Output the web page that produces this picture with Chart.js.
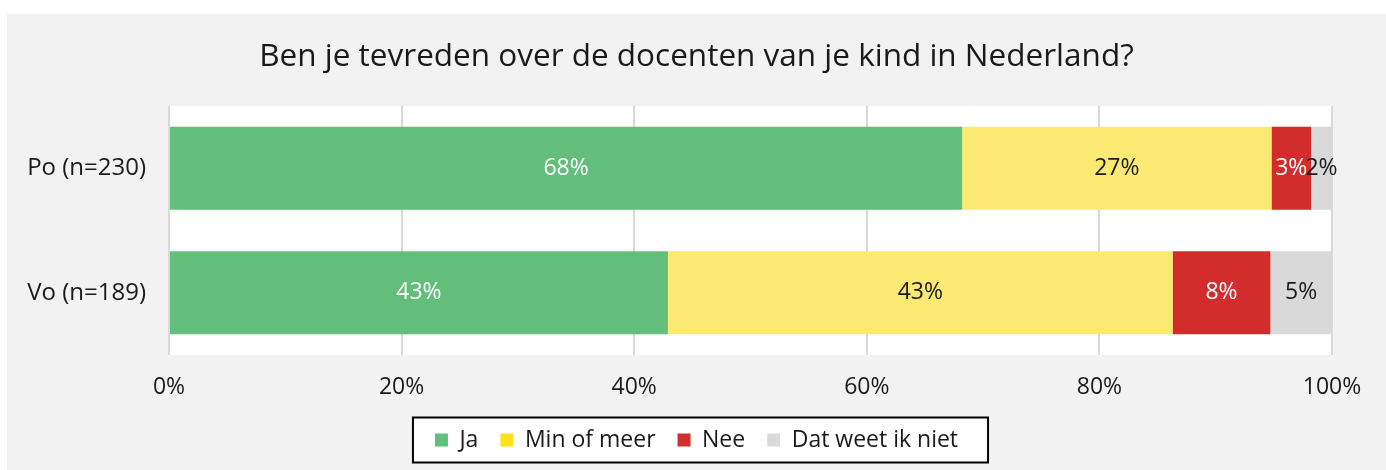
<!DOCTYPE html>
<html>
<head>
<meta charset="utf-8">
<script src="https://cdn.jsdelivr.net/npm/chart.js@4"></script>
<style>
  html, body { margin: 0; padding: 0; background: #fff; overflow: hidden; }
  #wrap { position: absolute; left: 7px; top: 14px; width: 1379px; height: 456px; background: #f2f2f2; }
</style>
</head>
<body>
<div id="wrap"><canvas id="myChart"></canvas></div>
<script>
// gegevens uit de grafiek (percentages per groep)
const categorieen = ['Po (n=230)', 'Vo (n=189)'];
const reeksen = ['Ja', 'Min of meer', 'Nee', 'Dat weet ik niet'];
const ja = [68.2, 42.9];
const minOfMeer = [26.6, 43.4];
const nee = [3.4, 8.4];
const weetNiet = [1.8, 5.3];
const xTicks = [0, 20, 40, 60, 80, 100];
const titel = 'Ben je tevreden over de docenten van je kind in Nederland?';

// kleuren
const balkKleuren = ['#63be7b', '#fce974', '#d22c2c', '#d9d9d9'];
const legendaKleuren = ['#63be7b', '#ffe11a', '#d22c2c', '#d9d9d9'];
const labelKleuren = ['#ffffff', '#1a1a1a', '#ffffff', '#1a1a1a'];
const lettertype = '"Open Sans", "Noto Sans", sans-serif';

// witte plotruimte en kader om de legenda
const achtergrond = {
    id: 'achtergrond',
    beforeDraw(chart) {
        const { ctx, chartArea: a, legend } = chart;
        ctx.save();
        ctx.fillStyle = '#ffffff';
        ctx.fillRect(a.left, a.top, a.right - a.left, a.bottom - a.top);
        const boxes = legend.legendHitBoxes;
        if (boxes && boxes.length) {
            const l = Math.min(...boxes.map(b => b.left)) - 22;
            const r = Math.max(...boxes.map(b => b.left + b.width)) + 30;
            const midden = boxes[0].top + boxes[0].height / 2;
            ctx.fillRect(l, midden - 22.5, r - l, 45);
            ctx.strokeStyle = '#000000';
            ctx.lineWidth = 2;
            ctx.strokeRect(l, midden - 22.5, r - l, 45);
        }
        ctx.restore();
    }
};

// percentages in de balken
const balkLabels = {
    id: 'balkLabels',
    afterDatasetsDraw(chart) {
        const ctx = chart.ctx;
        ctx.save();
        ctx.font = '23px ' + lettertype;
        ctx.textAlign = 'center';
        ctx.textBaseline = 'middle';
        chart.data.datasets.forEach((ds, i) => {
            const meta = chart.getDatasetMeta(i);
            meta.data.forEach((el, j) => {
                ctx.fillStyle = labelKleuren[i];
                ctx.fillText(Math.round(ds.data[j]) + '%', (el.x + el.base) / 2, el.y);
            });
        });
        ctx.restore();
    }
};

const reeksData = [ja, minOfMeer, nee, weetNiet];

const ctx = document.getElementById('myChart').getContext('2d');
const myChart = new Chart(ctx, {
    type: 'bar',
    data: {
        labels: categorieen,
        datasets: reeksen.map((naam, i) => ({
            label: naam,
            data: reeksData[i],
            backgroundColor: balkKleuren[i],
            borderWidth: 0,
            barPercentage: 0.667,
            categoryPercentage: 1
        }))
    },
    options: {
        indexAxis: 'y',
        responsive: true,
        maintainAspectRatio: false,
        animation: false,
        layout: { padding: { left: 0, right: 0, top: 0, bottom: 8.5 } },
        scales: {
            x: {
                stacked: true,
                min: 0,
                max: 100,
                afterBuildTicks: scale => { scale.ticks = xTicks.map(v => ({ value: v })); },
                afterFit: scale => { scale.height = 51.5; },
                grid: { color: '#d9d9d9', lineWidth: 2, drawTicks: false },
                border: { display: false },
                ticks: {
                    padding: 19,
                    color: '#1a1a1a',
                    font: { family: lettertype, size: 23 },
                    callback: v => v + '%'
                }
            },
            y: {
                stacked: true,
                afterFit: scale => { scale.width = 162; },
                grid: { display: false, drawTicks: false },
                border: { display: false },
                ticks: {
                    padding: 23,
                    color: '#1a1a1a',
                    font: { family: lettertype, size: 24 }
                }
            },
            // lege ruimte rechts, zodat titel en legenda over de hele breedte centreren
            rechts: {
                axis: 'y',
                type: 'category',
                position: 'right',
                afterFit: scale => { scale.width = 54; },
                grid: { display: false, drawTicks: false },
                border: { display: false },
                ticks: { display: false }
            }
        },
        plugins: {
            title: {
                display: true,
                text: titel,
                color: '#1a1a1a',
                font: { family: lettertype, size: 31.5, weight: 'normal', lineHeight: 1.2 },
                padding: { top: 24, bottom: 30.2 }
            },
            legend: {
                position: 'bottom',
                labels: {
                    boxWidth: 13,
                    boxHeight: 13,
                    padding: 22,
                    color: '#1a1a1a',
                    font: { family: lettertype, size: 23 },
                    generateLabels: chart => Chart.defaults.plugins.legend.labels.generateLabels(chart).map((l, i) => ({
                        ...l, fillStyle: legendaKleuren[i], strokeStyle: legendaKleuren[i], lineWidth: 0
                    }))
                }
            },
            tooltip: { enabled: false }
        }
    },
    plugins: [achtergrond, balkLabels]
});
</script>
</body>
</html>
